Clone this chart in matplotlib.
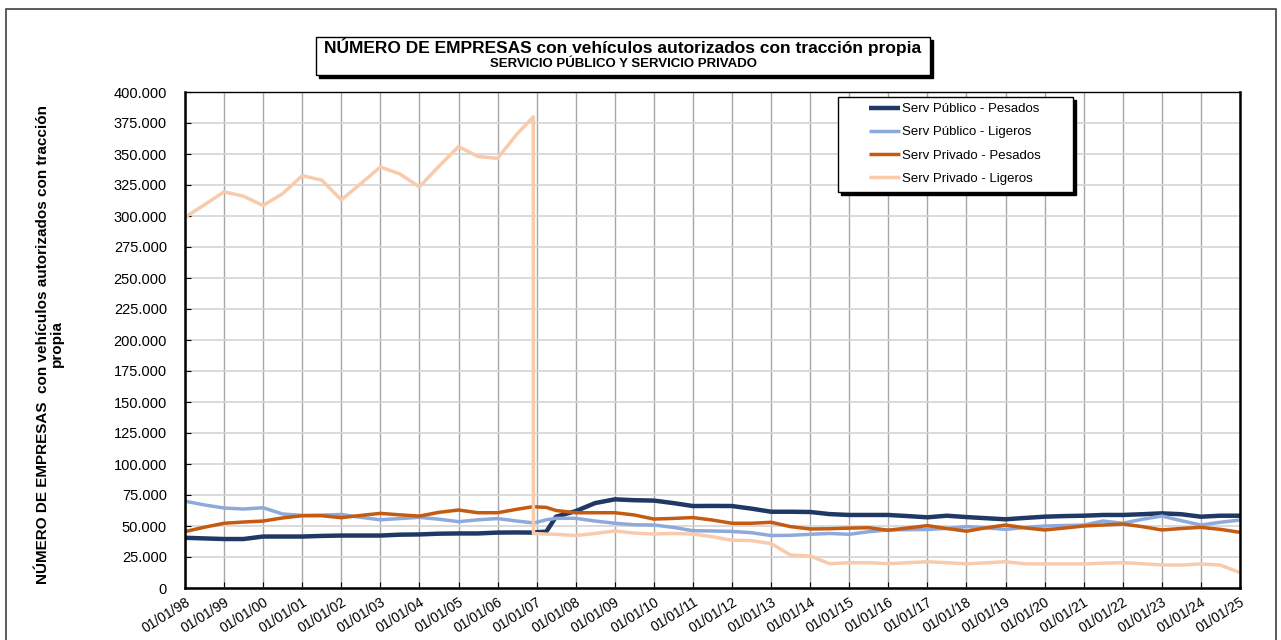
import numpy as np
import pandas as pd
import matplotlib
matplotlib.use("Agg")
import matplotlib.pyplot as plt
import matplotlib.dates as mdates
from matplotlib.patches import Rectangle
from matplotlib.ticker import MultipleLocator, FuncFormatter

plt.rcParams["font.family"] = ["Liberation Sans", "DejaVu Sans"]

# =================================================================
# Datos (miles de empresas), semestrales + fechas del cambio de 2007
# =================================================================
fechas = pd.date_range("1998-01-01", "2025-01-01", freq="6MS")
fechas = fechas.union(pd.to_datetime(["2006-12-01", "2006-12-02", "2007-04-01"]))

pub_pesados = [40.5, 40.0, 39.5, 39.5, 41.5, 41.5, 41.5, 42.0, 42.3, 42.3,
               42.3, 43.0, 43.2, 43.8, 44.0, 44.0, 44.7, 44.8, 44.7, 44.7,
               45.0, 45.4, 57.5, 62.0, 68.5, 71.5, 70.8, 70.5, 68.5, 66.1,
               66.2, 66.1, 64.0, 61.5, 61.5, 61.3, 59.6, 58.9, 58.9, 58.9,
               58.0, 57.0, 58.3, 57.2, 56.3, 55.4, 56.5, 57.5, 58.0, 58.3,
               58.9, 58.9, 59.5, 60.2, 59.5, 57.5, 58.3, 58.3]

pub_ligeros = [70.0, 67.0, 64.5, 63.7, 64.7, 59.7, 58.5, 58.8, 59.3, 57.0,
               55.0, 56.0, 57.0, 55.5, 53.5, 55.0, 56.0, 54.0, 52.5, 52.5,
               53.0, 55.0, 56.2, 56.2, 54.0, 52.2, 51.0, 50.8, 48.9, 46.2,
               46.0, 45.6, 44.6, 42.3, 42.5, 43.3, 44.0, 43.3, 45.4, 46.8,
               47.0, 47.2, 48.0, 49.5, 48.5, 47.3, 48.8, 50.0, 50.4, 50.8,
               54.0, 52.2, 55.4, 58.0, 54.3, 50.8, 53.0, 54.8]

priv_pesados = [45.5, 49.0, 52.2, 53.2, 54.0, 56.5, 58.3, 58.3, 56.7, 58.5,
                60.2, 59.0, 58.0, 61.0, 62.9, 60.7, 60.7, 63.5, 65.6, 65.6,
                65.4, 65.0, 62.5, 60.7, 60.7, 60.7, 58.9, 55.6, 56.1, 56.8,
                54.8, 52.2, 52.2, 53.0, 49.5, 47.6, 47.8, 48.3, 48.6, 46.6,
                48.4, 50.3, 48.0, 45.8, 48.5, 50.8, 48.5, 46.8, 48.3, 50.0,
                50.8, 51.6, 49.5, 46.8, 48.0, 48.9, 47.3, 44.9]

priv_ligeros = [299.0, 309.0, 319.5, 316.0, 308.5, 318.0, 332.5, 329.0, 313.0, 326.0,
                339.5, 334.0, 323.5, 340.0, 356.0, 348.0, 346.5, 366.0, 380.0, 44.0,
                43.8, 43.5, 43.3, 42.3, 44.0, 46.0, 44.3, 43.5, 44.0, 43.5,
                41.4, 38.5, 38.2, 35.8, 26.6, 25.8, 19.6, 20.4, 20.4, 19.6,
                20.4, 21.2, 20.4, 19.5, 20.3, 21.2, 19.5, 19.4, 19.4, 19.4,
                20.0, 20.4, 19.6, 18.6, 18.5, 19.4, 18.5, 12.4]

series = [("Serv Público - Pesados", pub_pesados, "#1f3864", 3.2),
          ("Serv Público - Ligeros", pub_ligeros, "#8eaadb", 2.5),
          ("Serv Privado - Pesados", priv_pesados, "#c55a11", 2.5),
          ("Serv Privado - Ligeros", priv_ligeros, "#f8cbad", 2.5)]

# =================================================================
# Figura
# =================================================================
W, H = 1281, 640
fig = plt.figure(figsize=(W / 100, H / 100), dpi=100)
fig.patches.append(Rectangle((6 / W, -0.05), 1270 / W, 1.05 - 9 / H, transform=fig.transFigure,
                             fill=False, edgecolor="#404040", lw=1.2))

ax = fig.add_axes([185 / W, 1 - 588 / H, (1240 - 185) / W, (588 - 92) / H])
for nombre, vals, color, lw in series:
    ax.plot(fechas, vals, color=color, lw=lw, label=nombre, solid_capstyle="butt")

ax.set_xlim(pd.Timestamp("1998-01-01"), pd.Timestamp("2025-01-01"))
ax.set_ylim(0, 400)
ax.yaxis.set_major_locator(MultipleLocator(25))
ax.yaxis.set_major_formatter(FuncFormatter(lambda v, p: "0" if v == 0 else f"{int(v)}.000"))
ax.xaxis.set_major_locator(mdates.YearLocator())
ax.xaxis.set_major_formatter(mdates.DateFormatter("%d/%m/%y"))
ax.grid(axis="y", color="#d4d4d4", lw=1.2)
ax.grid(axis="x", color="#a6a6a6", lw=1.0)
ax.set_axisbelow(True)
ax.tick_params(axis="y", labelsize=10.5, length=4, direction="in", pad=13, colors="black")
ax.tick_params(axis="x", labelsize=10, length=4, direction="in", pad=5)
plt.setp(ax.get_xticklabels(), rotation=32, ha="right", va="top", rotation_mode="anchor")
for s in ["left", "bottom", "right"]:
    ax.spines[s].set_linewidth(1.8)
ax.spines["top"].set_linewidth(1.0)

fig.text(50 / W, 1 - 344 / H, "NÚMERO DE EMPRESAS  con vehículos autorizados con tracción\npropia",
         rotation=90, ha="center", va="center", multialignment="center",
         fontsize=11, fontweight="bold", linespacing=1.05)

# Leyenda con caja y sombra
lx0, ly0, lx1, ly1 = 838, 97, 1073, 192
ax.add_patch(Rectangle((lx0 / W + 3 / W, 1 - ly1 / H - 3 / H), (lx1 - lx0) / W, (ly1 - ly0) / H,
                       transform=fig.transFigure, facecolor="black", edgecolor="black",
                       zorder=8, clip_on=False))
ax.add_patch(Rectangle((lx0 / W, 1 - ly1 / H), (lx1 - lx0) / W, (ly1 - ly0) / H,
                       transform=fig.transFigure, facecolor="white", edgecolor="black", lw=1.0,
                       zorder=9, clip_on=False))
leg = ax.legend(loc="upper left", bbox_to_anchor=((869 - 185) / 1055, 1 - (103 - 92) / 496),
                fontsize=9.5, frameon=False, handlelength=2.35, handletextpad=0.15,
                borderpad=0, labelspacing=0.83, borderaxespad=0)
leg.set_zorder(10)

# Caja del titulo con sombra
x0, y0, x1, y1 = 316 / W, 1 - 75 / H, 930 / W, 1 - 37 / H
fig.patches.append(Rectangle((x0 + 3 / W, y0 - 3 / H), x1 - x0, y1 - y0, transform=fig.transFigure,
                             facecolor="black", edgecolor="black"))
fig.patches.append(Rectangle((x0, y0), x1 - x0, y1 - y0, transform=fig.transFigure,
                             facecolor="white", edgecolor="black", lw=1.0))
fig.text((x0 + x1) / 2, 1 - 47 / H, "NÚMERO DE EMPRESAS con vehículos autorizados con tracción propia",
         ha="center", va="center", fontsize=12.5, fontweight="bold")
fig.text((x0 + x1) / 2, 1 - 64 / H, "SERVICIO PÚBLICO Y SERVICIO PRIVADO",
         ha="center", va="center", fontsize=9.5, fontweight="bold")

fig.savefig("out.png", dpi=100)
